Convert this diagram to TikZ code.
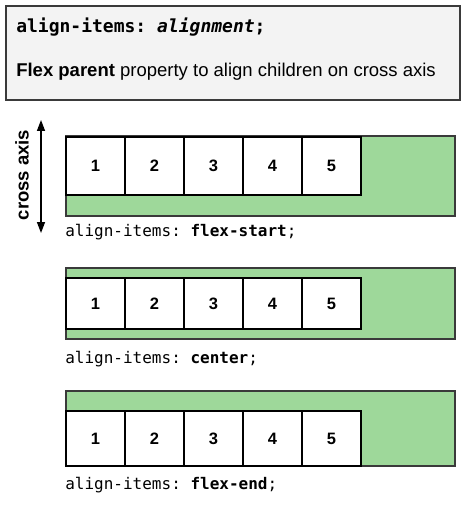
\documentclass[tikz,border=0pt]{standalone}
\usepackage{fontspec}
\setmainfont{Liberation Sans}
\setmonofont{DejaVu Sans Mono}
\usetikzlibrary{arrows.meta}
\definecolor{boxgray}{HTML}{F3F3F3}
\definecolor{edgegray}{HTML}{3A3A3A}
\definecolor{flexgreen}{HTML}{9ED89A}

\begin{document}
\begin{tikzpicture}
            [x=1pt, y=-1pt, >={Triangle[length=11pt,width=8pt]}, semithick,
             parent/.style={draw=edgegray, fill=flexgreen, line width=1.4pt, minimum width=389pt, inner sep=0pt},
             child/.style={draw=black, fill=white, line width=1.8pt, minimum width=59pt, inner sep=0pt, font=\fontsize{16.5}{18}\selectfont\bfseries},
             caption/.style={anchor=base west, inner sep=0pt, font=\fontsize{16}{18}\ttfamily}]
            \useasboundingbox (0, 0) rectangle (467, 505);

            \node[draw=edgegray, fill=boxgray, line width=1.6pt, minimum width=454pt, minimum height=94pt] (header) at (233, 53) {};
            \node[anchor=base west, inner sep=0pt, font=\fontsize{18}{20}\ttfamily\bfseries] (title) at (16, 33) {align-items: \textit{alignment};};
            \node[anchor=base west, inner sep=0pt, font=\fontsize{18.5}{20}\selectfont] (desc) at (16, 77) {\textbf{Flex parent} property to align children on cross axis};

            \node[rotate=90, inner sep=0pt, font=\fontsize{18.5}{20}\selectfont\bfseries] (crossaxis) at (22, 175) {cross axis};
            \coordinate (axtop) at (41, 120);
            \coordinate (axbot) at (41, 233);

            % flex-start
            \node[parent, minimum height=80pt] (startrow) at (260.5, 176) {};
            \node[child, minimum height=58pt] (start1) at (95.5, 166) {1};
            \node[child, minimum height=58pt] (start2) at (154.5, 166) {2};
            \node[child, minimum height=58pt] (start3) at (213.5, 166) {3};
            \node[child, minimum height=58pt] (start4) at (272.5, 166) {4};
            \node[child, minimum height=58pt] (start5) at (331.5, 166) {5};
            \node[caption] (startlabel) at (65, 236) {align-items: \textbf{flex-start};};

            % center
            \node[parent, minimum height=71pt] (centerrow) at (260.5, 303.5) {};
            \node[child, minimum height=51pt] (center1) at (95.5, 303.5) {1};
            \node[child, minimum height=51pt] (center2) at (154.5, 303.5) {2};
            \node[child, minimum height=51pt] (center3) at (213.5, 303.5) {3};
            \node[child, minimum height=51pt] (center4) at (272.5, 303.5) {4};
            \node[child, minimum height=51pt] (center5) at (331.5, 303.5) {5};
            \node[caption] (centerlabel) at (65, 363) {align-items: \textbf{center};};

            % flex-end
            \node[parent, minimum height=75pt] (endrow) at (260.5, 428.5) {};
            \node[child, minimum height=55pt] (end1) at (95.5, 438.5) {1};
            \node[child, minimum height=55pt] (end2) at (154.5, 438.5) {2};
            \node[child, minimum height=55pt] (end3) at (213.5, 438.5) {3};
            \node[child, minimum height=55pt] (end4) at (272.5, 438.5) {4};
            \node[child, minimum height=55pt] (end5) at (331.5, 438.5) {5};
            \node[caption] (endlabel) at (65, 489) {align-items: \textbf{flex-end};};

            \draw [<->, line width=1.4pt] (axtop) -- (axbot);
        \end{tikzpicture}
\end{document}
